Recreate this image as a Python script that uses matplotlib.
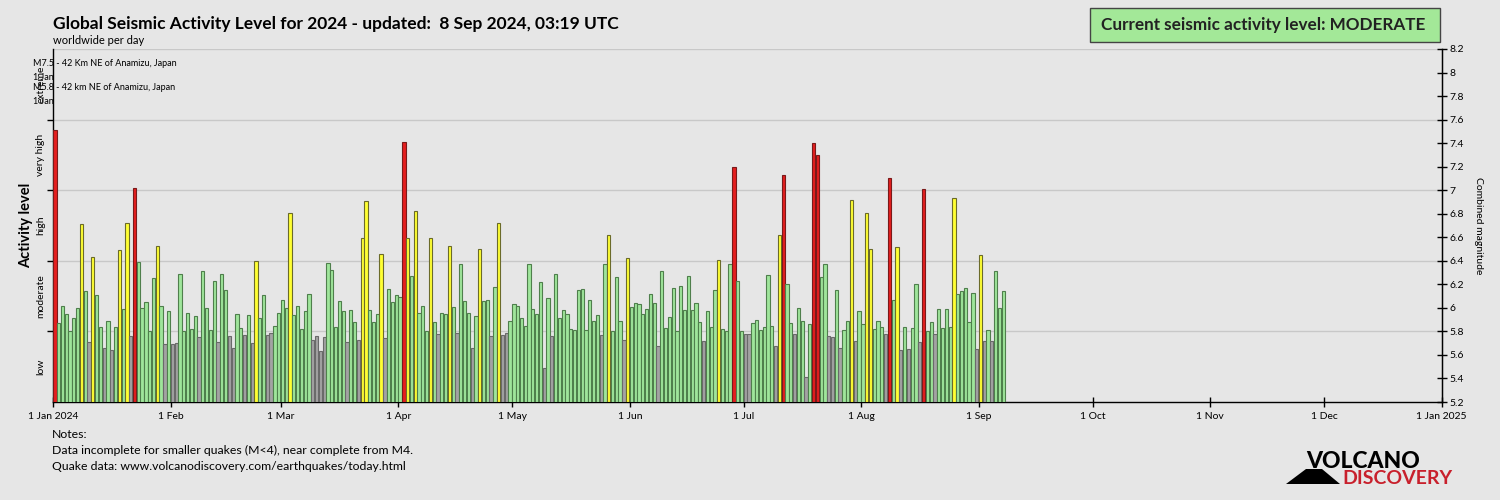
import matplotlib
matplotlib.use("Agg")
import matplotlib.pyplot as plt
import matplotlib.dates as mdates
from matplotlib.patches import Polygon, Rectangle
import numpy as np
import pandas as pd

plt.rcParams['font.family'] = ['Lato', 'DejaVu Sans']

# combined magnitude per day, 1 Jan 2024 .. 7 Sep 2024
mag = [
    7.51, 5.87, 6.02, 5.95, 5.80, 5.91, 6.00, 6.71, 6.14, 5.71, 6.43, 6.11, 5.84, 5.66, 5.89,
    5.64, 5.84, 6.49, 5.99, 6.72, 5.76, 7.02, 6.39, 6.00, 6.05, 5.80, 6.25, 6.53, 6.02, 5.69,
    5.97, 5.69, 5.70, 6.29, 5.80, 5.96, 5.82, 5.93, 5.75, 6.31, 6.00, 5.81, 6.23, 5.71, 6.29,
    6.15, 5.76, 5.66, 5.95, 5.83, 5.77, 5.94, 5.70, 6.40, 5.91, 6.11, 5.77, 5.79, 5.85, 5.96,
    6.07, 6.00, 6.81, 5.94, 6.02, 5.82, 5.97, 6.12, 5.73, 5.76, 5.63, 5.75, 6.38, 6.32, 5.84,
    6.06, 5.97, 5.71, 5.98, 5.88, 5.73, 6.59, 6.91, 5.98, 5.88, 5.95, 6.46, 5.74, 6.16, 6.05,
    6.11, 6.09,
    7.41, 6.59, 6.27, 6.82, 5.96, 6.02, 5.80, 6.59, 5.88, 5.78, 5.96, 5.95, 6.53, 6.01, 5.79,
    6.37, 6.06, 5.96, 5.66, 5.93, 6.50, 6.06, 6.07, 5.76, 6.18, 6.72, 5.77, 5.79, 5.89, 6.03,
    6.02, 5.91, 5.85,
    6.37, 5.99, 5.95, 6.22, 5.49, 6.08, 5.76, 6.29, 5.91, 5.98, 5.95, 5.82, 5.81, 6.15, 6.16,
    5.81, 6.07, 5.89, 5.94, 5.77, 6.37, 6.62, 5.80, 6.26, 5.89, 5.73, 6.42, 6.01, 6.04, 6.03,
    5.95, 5.99,
    6.12, 6.04, 5.68, 6.31, 5.83, 5.92, 6.17, 5.80, 6.19, 5.98, 6.27, 5.98, 6.04, 5.88, 5.72,
    5.97, 5.84, 6.15, 6.41, 5.82, 5.80, 6.37, 7.20, 6.23, 5.80, 5.78, 5.78, 5.87, 5.90, 5.81,
    5.84,
    6.28, 5.85, 5.68, 6.62, 7.13, 6.20, 5.87, 5.78, 6.00, 5.89, 5.41, 5.86, 7.40, 7.30, 6.26,
    6.37, 5.76, 5.75, 6.15, 5.66, 5.81, 5.89, 6.92, 5.72, 5.97, 5.86, 6.81, 6.50, 5.82, 5.89,
    5.84, 5.78,
    7.10, 6.07, 6.52, 5.64, 5.84, 5.65, 5.83, 6.20, 5.71, 7.01, 5.80, 5.88, 5.78, 5.99, 5.83,
    5.99, 5.84, 6.93, 6.12, 6.14, 6.17, 5.88, 6.13, 5.65, 6.45, 5.72, 5.81, 5.72, 6.31, 6.00,
    6.14,
]
days = pd.date_range("2024-01-01", periods=len(mag), freq="D")

level_names = ["low", "moderate", "high", "very high", "extreme"]
level_edges = [5.2, 5.8, 6.4, 7.0, 7.6, 8.2]
level_colors = ["#a3a3a3", "#9fe59b", "#ffff33", "#e41f1f"]
edge_colors = ["#6a6a6a", "#4f7f4c", "#6b6b2a", "#7a1a1a"]

month_ticks = pd.date_range("2024-01-01", "2025-01-01", freq="MS")
month_labels = ["1 Jan 2024", "1 Feb", "1 Mar", "1 Apr", "1 May", "1 Jun", "1 Jul",
                "1 Aug", "1 Sep", "1 Oct", "1 Nov", "1 Dec", "1 Jan 2025"]

notes = ["Notes:",
         "Data incomplete for smaller quakes (M<4), near complete from M4.",
         "Quake data: www.volcanodiscovery.com/earthquakes/today.html"]

bg = "#e6e6e6"
fig = plt.figure(figsize=(15, 5), dpi=100, facecolor=bg)
ax = fig.add_axes([0.0355, 0.196, 0.9256, 0.706], facecolor=bg)

mag_arr = np.array(mag)
cls = np.digitize(mag_arr, level_edges[1:4])
fc = [level_colors[c] for c in cls]
ec = [edge_colors[c] for c in cls]
x = mdates.date2num(days)
ax.bar(x, mag_arr - 5.2, bottom=5.2, width=0.86, align='edge',
       color=fc, edgecolor=ec, linewidth=0.8, zorder=3)

ax.set_xlim(mdates.date2num(pd.Timestamp("2024-01-01")), mdates.date2num(pd.Timestamp("2025-01-01")))
ax.set_ylim(5.2, 8.2)

for yv in level_edges[1:]:
    ax.axhline(yv, color="#c8c8c8", linewidth=1, zorder=1)

ax.set_xticks(mdates.date2num(month_ticks))
ax.set_xticklabels(month_labels, fontsize=7.5)
ax.tick_params(axis='x', direction='inout', length=7, width=1, pad=4, colors='black')

ax.set_yticks(level_edges[1:5])
ax.set_yticklabels([])
ax.tick_params(axis='y', direction='out', length=4, width=1)
for i, name in enumerate(level_names):
    ax.text(-0.009, (level_edges[i] + level_edges[i + 1]) / 2, name, transform=ax.get_yaxis_transform(),
            rotation=90, ha='center', va='center', fontsize=7.5)
ax.set_ylabel("Activity level", fontsize=10.5, fontweight='bold', labelpad=7)

ax.spines['top'].set_visible(False)
for s in ['left', 'bottom', 'right']:
    ax.spines[s].set_linewidth(1)
    ax.spines[s].set_color('black')

ax2 = ax.twinx()
ax2.set_ylim(5.2, 8.2)
ax2.set_yticks(np.round(np.arange(5.2, 8.21, 0.2), 1))
ax2.set_yticklabels([f"{v:g}" for v in np.round(np.arange(5.2, 8.21, 0.2), 1)], fontsize=7.5)
ax2.tick_params(axis='y', direction='inout', length=7, width=1, pad=2)
ax2.set_ylabel("Combined magnitude", fontsize=7.5, rotation=-90, labelpad=14)
for s in ['top', 'left', 'bottom']:
    ax2.spines[s].set_visible(False)

# titles
fig.text(0.035, 0.952, "Global Seismic Activity Level for 2024 - updated:  8 Sep 2024, 03:19 UTC",
         fontsize=12.5, fontweight='bold', va='center')
fig.text(0.035, 0.92, "worldwide per day", fontsize=8, va='center')

# current level box
fig.patches.append(Rectangle((1090 / 1500, 1 - 42 / 500), 350 / 1500, 34 / 500, transform=fig.transFigure,
                             facecolor="#a3e898", edgecolor="#444444", linewidth=1))
fig.text(1263 / 1500, 1 - 25 / 500, "Current seismic activity level: MODERATE", fontsize=12.3,
         fontweight='bold', ha='center', va='center', color='#222222')

# largest quake annotations
fig.text(33 / 1500, 1 - 64 / 500, "M7.5 - 42 Km NE of Anamizu, Japan", fontsize=6.5, va='center')
fig.text(33 / 1500, 1 - 77 / 500, "1 Jan", fontsize=6.5, va='center')
fig.text(33 / 1500, 1 - 88 / 500, "M5.8 - 42 km NE of Anamizu, Japan", fontsize=6.5, va='center')
fig.text(33 / 1500, 1 - 101 / 500, "1 Jan", fontsize=6.5, va='center')

for i, line in enumerate(notes):
    fig.text(52 / 1500, 1 - (434 + i * 16) / 500, line, fontsize=8.8, va='center')

# logo
fig.text(1363 / 1500, 1 - 461 / 500, "VOLCANO", fontsize=16.5, fontweight='black', ha='center',
         va='center', color='black')
fig.text(1397 / 1500, 1 - 478 / 500, "DISCOVERY", fontsize=14, fontweight='bold', ha='center',
         va='center', color='#c8202c')
fig.patches.append(Polygon([(1286 / 1500, 1 - 484 / 500), (1340 / 1500, 1 - 484 / 500),
                            (1322 / 1500, 1 - 469 / 500), (1306 / 1500, 1 - 469 / 500)],
                           closed=True, transform=fig.transFigure, facecolor='black', edgecolor='none'))

fig.savefig("out.png", dpi=100, facecolor=bg)
